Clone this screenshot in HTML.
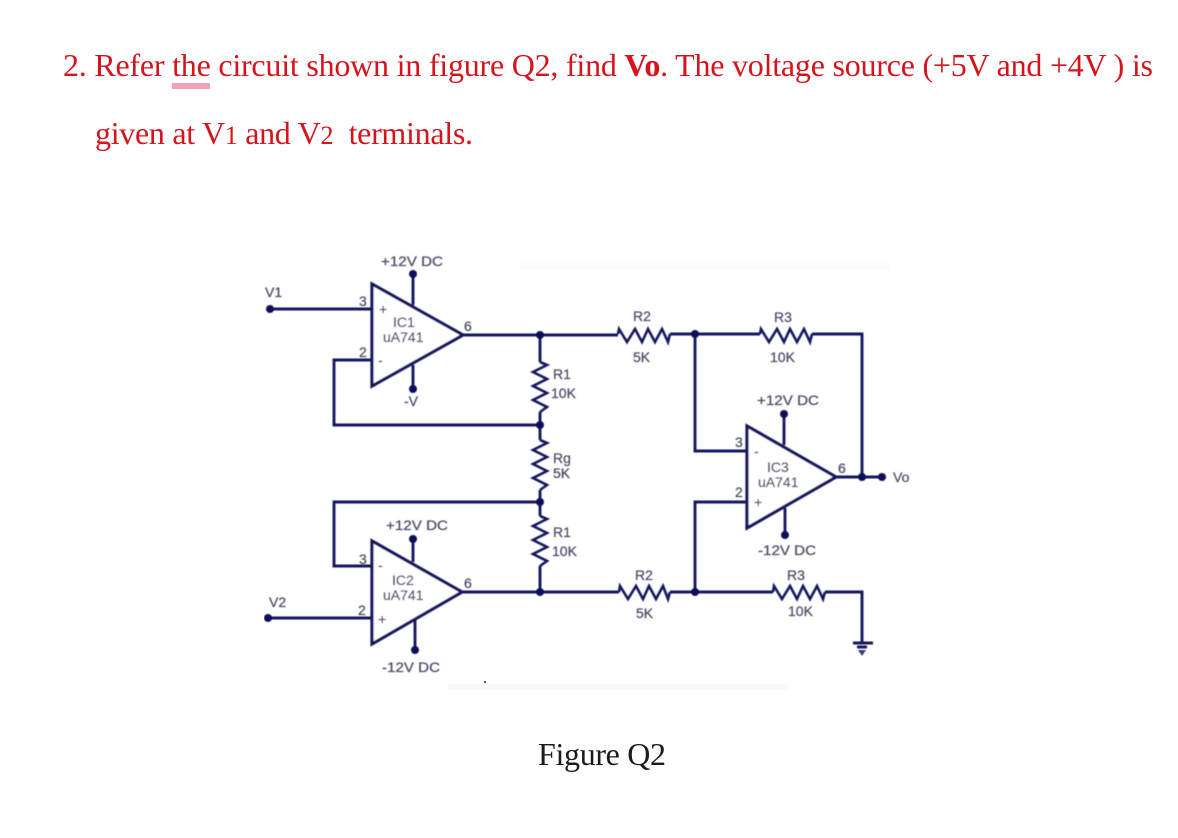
<!DOCTYPE html>
<html><head><meta charset="utf-8"><style>
html,body{margin:0;padding:0;background:#fff}
svg{display:block}
.h{font-family:"Liberation Serif",serif;font-size:32px;fill:#d4121e}
.l{font-family:"Liberation Sans",sans-serif;font-size:14px;fill:#4c4c66;stroke:#4c4c66;stroke-width:.25}
.w{fill:none;stroke:#15155f;stroke-width:2.9;stroke-linejoin:miter}
.t{fill:#fff;stroke:#15155f;stroke-width:3.2}
.r{fill:none;stroke:#15155f;stroke-width:2.6;stroke-linejoin:miter}
circle{fill:#0c0c58}
</style></head><body>
<svg width="1178" height="838" viewBox="0 0 1178 838" xmlns="http://www.w3.org/2000/svg">
<defs>
<filter id="b" x="0" y="0" width="100%" height="100%"><feGaussianBlur stdDeviation="0.4"/></filter>
<filter id="s" x="0" y="0" width="100%" height="100%"><feGaussianBlur stdDeviation="0.3"/></filter>
</defs>
<rect width="1178" height="838" fill="#fff"/>
<rect x="520" y="263" width="370" height="7" fill="#fcfcfc"/>
<rect x="448" y="684" width="340" height="6" fill="#fafafa"/>
<rect x="172" y="83" width="38" height="6" fill="#f2a2b2"/>
<g filter="url(#s)">
<text class="h" x="63" y="76" textLength="1090" lengthAdjust="spacing">2. Refer the circuit shown in figure Q2, find <tspan font-weight="bold">Vo</tspan>. The voltage source (+5V and +4V ) is</text>
<text class="h" x="95" y="144" textLength="378" lengthAdjust="spacing">given at V<tspan font-size="26">1</tspan> and V<tspan font-size="26">2</tspan>&#160; terminals.</text>
<text x="538" y="765" font-family="Liberation Serif, serif" font-size="32" fill="#1a1a1a" textLength="128" lengthAdjust="spacing">Figure Q2</text>
</g>

<g filter="url(#b)">
<!-- wires -->
<path class="w" d="M270 309H372M413 274V305M413 365V389M372 360H334V425H540M463 335H618M540 335V362M540 412V440M540 490V516M540 566V592M670 334H760M812 334H862V477M836 477H882"/>
<path class="w" d="M695 334V451H747M747 502H695V592M462 592H619M670 592H773M825 592H862V643M540 502H334V566H372M268 618H372M413 539V562M415 620V650M784 414V445M785 508V535"/>

<!-- op-amps -->
<path class="t" d="M372 284L463 335L372 386Z"/>
<path class="t" d="M372 541L462 592L372 644Z"/>
<path class="t" d="M747 426L836 477L747 528Z"/>

<!-- resistors -->
<path class="r" d="M540 362L547 365L533 372L547 379L533 386L547 393L533 400L547 407L540 412"/>
<path class="r" d="M540 440L547 443L533 450L547 457L533 464L547 471L533 478L547 485L540 490"/>
<path class="r" d="M540 516L547 519L533 526L547 533L533 540L547 547L533 554L547 561L540 566"/>
<path class="r" d="M618 334L619 329L627 342L635 329L642 342L648 329L655 342L662 329L668 342L670 334"/>
<path class="r" d="M760 334L761 329L769 342L777 329L784 342L790 329L797 342L804 329L810 342L812 334"/>
<path class="r" d="M619 592L620 586L628 599L636 586L643 599L649 586L656 599L663 586L668 599L670 592"/>
<path class="r" d="M773 592L774 586L782 599L790 586L797 599L803 586L810 599L817 586L823 599L825 592"/>

<!-- ground -->
<path class="w" d="M853 643H873M857 647H867"/>
<path d="M858 650H866L862 656Z" fill="#3a3a70"/>

<!-- nodes -->
<circle cx="270" cy="309" r="4"/><circle cx="413" cy="274" r="4"/><circle cx="413" cy="389" r="4"/>
<circle cx="540" cy="335" r="4"/><circle cx="540" cy="425" r="4"/><circle cx="540" cy="502" r="4"/><circle cx="540" cy="592" r="4"/>
<circle cx="268" cy="618" r="4"/><circle cx="413" cy="539" r="4"/><circle cx="415" cy="650" r="4"/>
<circle cx="695" cy="334" r="4"/><circle cx="695" cy="592" r="4"/><circle cx="862" cy="477" r="4"/><circle cx="882" cy="477" r="4"/>
<circle cx="784" cy="414" r="4"/><circle cx="785" cy="535" r="4"/>

<!-- labels -->
<g>
<text class="l" x="381" y="266" textLength="62" lengthAdjust="spacingAndGlyphs">+12V DC</text>
<text class="l" x="265" y="297">V1</text>
<text class="l" x="359" y="306">3</text>
<text class="l" x="359" y="357">2</text>
<text class="l" x="464" y="331">6</text>
<text class="l" x="393" y="327">IC1</text>
<text class="l" x="383" y="342">uA741</text>
<text class="l" x="379" y="314">+</text>
<text class="l" x="378" y="365">-</text>
<text class="l" x="404" y="406">-V</text>
<text class="l" x="553" y="379">R1</text>
<text class="l" x="551" y="398">10K</text>
<text class="l" x="553" y="463">Rg</text>
<text class="l" x="553" y="478">5K</text>
<text class="l" x="553" y="537">R1</text>
<text class="l" x="552" y="556">10K</text>
<text class="l" x="633" y="321">R2</text>
<text class="l" x="633" y="362">5K</text>
<text class="l" x="774" y="322">R3</text>
<text class="l" x="770" y="362">10K</text>
<text class="l" x="757" y="405" textLength="62" lengthAdjust="spacingAndGlyphs">+12V DC</text>
<text class="l" x="735" y="447">3</text>
<text class="l" x="735" y="497">2</text>
<text class="l" x="838" y="473">6</text>
<text class="l" x="767" y="472">IC3</text>
<text class="l" x="758" y="487">uA741</text>
<text class="l" x="754" y="507">+</text>
<text class="l" x="754" y="456">-</text>
<text class="l" x="893" y="482">Vo</text>
<text class="l" x="758" y="555" textLength="58" lengthAdjust="spacingAndGlyphs">-12V DC</text>
<text class="l" x="787" y="580">R3</text>
<text class="l" x="788" y="616">10K</text>
<text class="l" x="635" y="580">R2</text>
<text class="l" x="636" y="618">5K</text>
<text class="l" x="386" y="530" textLength="62" lengthAdjust="spacingAndGlyphs">+12V DC</text>
<text class="l" x="359" y="564">3</text>
<text class="l" x="358" y="615">2</text>
<text class="l" x="464" y="588">6</text>
<text class="l" x="392" y="585">IC2</text>
<text class="l" x="383" y="600">uA741</text>
<text class="l" x="378" y="624">+</text>
<text class="l" x="378" y="570">-</text>
<text class="l" x="269" y="607">V2</text>
<text class="l" x="382" y="672" textLength="58" lengthAdjust="spacingAndGlyphs">-12V DC</text>
</g>
</g>
<rect x="484" y="681" width="2" height="2" fill="#555"/>
</svg>
</body></html>
